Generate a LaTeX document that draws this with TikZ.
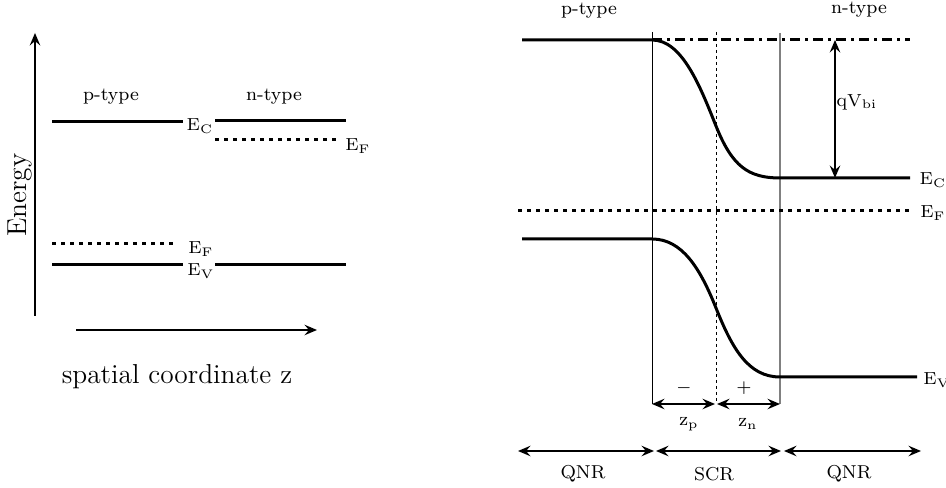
\documentclass[tikz,border=0pt]{standalone}
\usetikzlibrary{arrows.meta,positioning}
\newcommand{\lvl}[1]{$\mathrm{E}_{\scriptscriptstyle\mathrm{#1}}$}
\tikzset{
 band/.style={line width=1.2bp},
 fermi/.style={line width=1.2bp,dash pattern=on 1.7bp off 1.9bp},
 refline/.style={line width=1.2bp,dash pattern=on 4bp off 2bp on 1.2bp off 2bp},
 divider/.style={line width=0.4bp},
 axis/.style={-{Stealth[length=5bp,width=4.2bp,inset=1.8bp]},line width=0.6bp},
 span/.style={{Stealth[length=5bp,width=4.2bp,inset=1.8bp]}-{Stealth[length=5bp,width=4.2bp,inset=1.8bp]},line width=0.6bp},
 lbl/.style={inner sep=0pt,font=\fontsize{7.5}{9}\selectfont},
 big/.style={inner sep=0pt,font=\fontsize{11}{13}\selectfont}}

\begin{document}
\begin{tikzpicture}[x=0.4bp,y=-0.4bp]
\useasboundingbox (0,0) rectangle (946,488);
% flat bands, left panel
\coordinate (axBot) at (35,316); \coordinate (axTop) at (35,33);
\draw[axis] (axBot) -- (axTop);
\node[big,rotate=90] (energy) at (20,195) {Energy};
\coordinate (zStart) at (76,330); \coordinate (zEnd) at (317,330);
\draw[axis] (zStart) -- (zEnd);
\node[big] (zlabel) at (177,377) {spatial coordinate z};
\node[lbl] (pLeft) at (111,97) {p-type};
\node[lbl] (nLeft) at (274,97) {n-type};
\draw[band] (52,122) -- (183,122);
\draw[band] (215,121) -- (346,121);
\draw[fermi] (215,140) -- (340,140);
\draw[fermi] (52,244) -- (177,244);
\draw[band] (52,265) -- (183,265);
\draw[band] (215,265) -- (346,265);
\node[lbl] (ecL) at (200,126) {\lvl{C}};
\node[lbl] (efnL) at (358,146) {\lvl{F}};
\node[lbl] (efpL) at (201,249) {\lvl{F}};
\node[lbl] (evL) at (201,271) {\lvl{V}};
% pn junction, right panel
\node[lbl] (pRight) at (589,11) {p-type};
\node[lbl] (nRight) at (859,10) {n-type};
\draw[divider] (652,32) -- (652,404);
\draw[divider,dash pattern=on 1.2bp off 1.2bp] (716,32) -- (716,404);
\draw[line width=0.8bp,black!50] (780,33) -- (780,404);
\draw[refline] (652,40) -- (910,40);
\draw[band] (522,40) -- (652,40)
  .. controls (682,40) and (700,86) .. (716,126)
  .. controls (732,166) and (748,178) .. (780,178) -- (910,178);
\draw[fermi] (518,211) -- (910,211);
\draw[band] (522,239) -- (652,239)
  .. controls (682,239) and (700,268) .. (716,308)
  .. controls (732,348) and (748,377) .. (780,377) -- (917,377);
\coordinate (biTop) at (835,40); \coordinate (biBot) at (835,178);
\draw[span] (biTop) -- (biBot);
\node[lbl] (qvbi) at (857,102) {q$\mathrm{V}_{\scriptscriptstyle\mathrm{bi}}$};
\node[lbl] (ecR) at (933,180) {\lvl{C}};
\node[lbl] (efR) at (933,213) {\lvl{F}};
\node[lbl] (evR) at (937,380) {\lvl{V}};
\node[lbl] (minus) at (684,388) {$-$};
\node[lbl] (plus) at (744,388) {$+$};
\coordinate (zpA) at (652,404); \coordinate (zpB) at (715,404);
\coordinate (znA) at (717,404); \coordinate (znB) at (780,404);
\draw[span] (zpA) -- (zpB);
\draw[span] (znA) -- (znB);
\node[lbl] (zp) at (689,424) {z$_{\scriptscriptstyle\mathrm{p}}$};
\node[lbl] (zn) at (748,424) {z$_{\scriptscriptstyle\mathrm{n}}$};
% regions
\coordinate (r0) at (518,451); \coordinate (r1) at (654,451);
\coordinate (r2) at (656,451); \coordinate (r3) at (781,451);
\coordinate (r4) at (784,451); \coordinate (r5) at (921,451);
\draw[span] (r0) -- (r1);
\draw[span] (r2) -- (r3);
\draw[span] (r4) -- (r5);
\node[lbl] (qnrL) at (583,474) {QNR};
\node[lbl] (scr) at (714,474) {SCR};
\node[lbl] (qnrR) at (849,474) {QNR};
\end{tikzpicture}
\end{document}
